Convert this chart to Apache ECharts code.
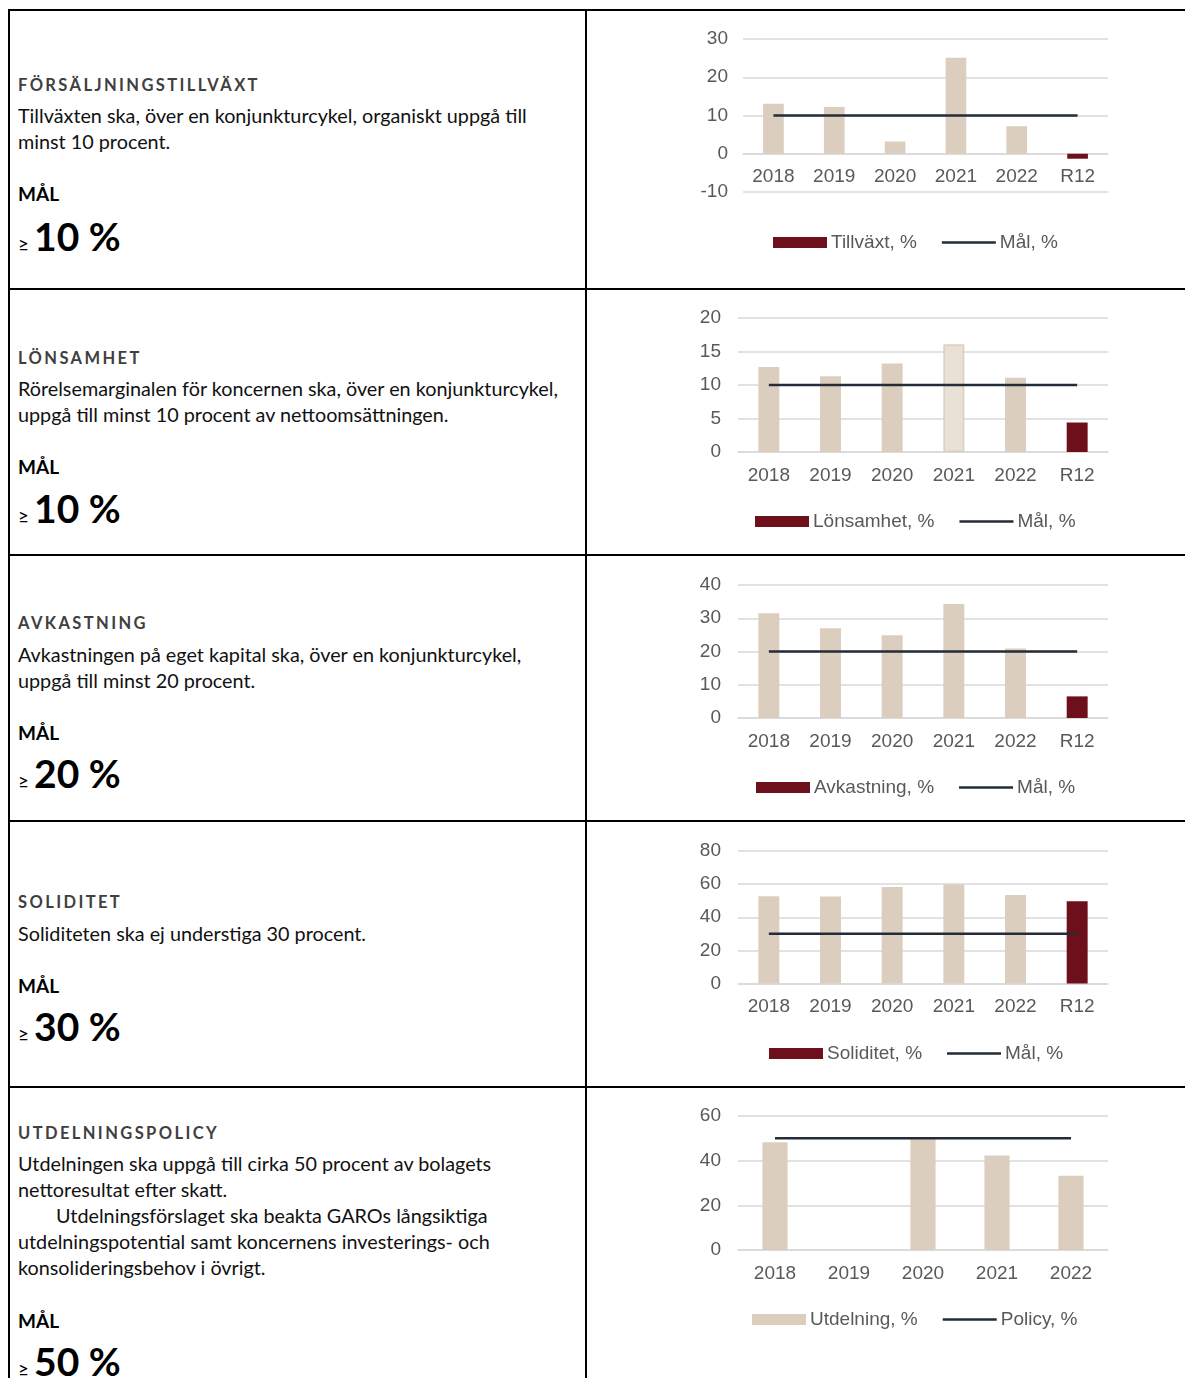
<!DOCTYPE html>
<html>
<head>
<meta charset="utf-8">
<script src="https://cdn.jsdelivr.net/npm/echarts@6/dist/echarts.min.js"></script>
<style>
  html, body { margin:0; padding:0; background:#fff; }
  body { width:1185px; height:1378px; position:relative; overflow:hidden; font-family:'Lato','Open Sans',sans-serif; }
  .ln { position:absolute; background:#000; }
  .t { position:absolute; left:18px; white-space:nowrap; }
  .h { font-weight:700; color:#404040; font-size:16.5px; letter-spacing:2.4px; line-height:24px; }
  .b { color:#111; font-size:19.8px; line-height:26px; }
  .m { font-weight:700; color:#000; font-size:19px; line-height:24px; }
  .g { font-weight:700; color:#000; line-height:44px; }
  .g .s { font-size:19px; font-weight:400; margin-right:5px; }
  .g .n { font-size:39px; }
  .chart { position:absolute; left:590px; width:595px; }
</style>
</head>
<body>
<div class="ln" style="left:8px;top:9px;width:1177px;height:2px"></div>
<div class="ln" style="left:8px;top:288px;width:1177px;height:2px"></div>
<div class="ln" style="left:8px;top:554px;width:1177px;height:2px"></div>
<div class="ln" style="left:8px;top:820px;width:1177px;height:2px"></div>
<div class="ln" style="left:8px;top:1086px;width:1177px;height:2px"></div>
<div class="ln" style="left:8px;top:9px;width:2px;height:1369px"></div>
<div class="ln" style="left:585px;top:9px;width:2px;height:1369px"></div>

<!-- Row 1 -->
<div class="t h" style="top:73px">FÖRSÄLJNINGSTILLVÄXT</div>
<div class="t b" style="top:102px">Tillväxten ska, över en konjunkturcykel, organiskt uppgå till<br>minst 10 procent.</div>
<div class="t m" style="top:182px">MÅL</div>
<div class="t g" style="top:214px"><span class="s">≥</span><span class="n">10 %</span></div>

<!-- Row 2 -->
<div class="t h" style="top:346px">LÖNSAMHET</div>
<div class="t b" style="top:375px">Rörelsemarginalen för koncernen ska, över en konjunkturcykel,<br>uppgå till minst 10 procent av nettoomsättningen.</div>
<div class="t m" style="top:455px">MÅL</div>
<div class="t g" style="top:486px"><span class="s">≥</span><span class="n">10 %</span></div>

<!-- Row 3 -->
<div class="t h" style="top:611px">AVKASTNING</div>
<div class="t b" style="top:641px">Avkastningen på eget kapital ska, över en konjunkturcykel,<br>uppgå till minst 20 procent.</div>
<div class="t m" style="top:721px">MÅL</div>
<div class="t g" style="top:751px"><span class="s">≥</span><span class="n">20 %</span></div>

<!-- Row 4 -->
<div class="t h" style="top:890px">SOLIDITET</div>
<div class="t b" style="top:920px">Soliditeten ska ej understiga 30 procent.</div>
<div class="t m" style="top:974px">MÅL</div>
<div class="t g" style="top:1004px"><span class="s">≥</span><span class="n">30 %</span></div>

<!-- Row 5 -->
<div class="t h" style="top:1121px">UTDELNINGSPOLICY</div>
<div class="t b" style="top:1150px">Utdelningen ska uppgå till cirka 50 procent av bolagets<br>nettoresultat efter skatt.<br><span style="padding-left:38px">Utdelningsförslaget ska beakta GAROs långsiktiga</span><br>utdelningspotential samt koncernens investerings- och<br>konsolideringsbehov i övrigt.</div>
<div class="t m" style="top:1309px">MÅL</div>
<div class="t g" style="top:1339px"><span class="s">≥</span><span class="n">50 %</span></div>

<div id="c1" class="chart" style="top:12px;height:276px"></div>
<div id="c2" class="chart" style="top:291px;height:263px"></div>
<div id="c3" class="chart" style="top:557px;height:263px"></div>
<div id="c4" class="chart" style="top:823px;height:263px"></div>
<div id="c5" class="chart" style="top:1089px;height:289px"></div>

<script>
// ---- Data ----
const categories = ['2018', '2019', '2020', '2021', '2022', 'R12'];
const growthValues = [13.1, 12.2, 3.2, 25.1, 7.2, -1.3];
const growthTarget = [10, 10, 10, 10, 10, 10];
const growthTicks = [-10, 30, 10];

const marginValues = [12.7, 11.3, 13.2, 16.1, 11.1, 4.4];
const marginTarget = [10, 10, 10, 10, 10, 10];
const marginTicks = [0, 20, 5];

const roeValues = [31.5, 27.0, 24.9, 34.3, 20.9, 6.5];
const roeTarget = [20, 20, 20, 20, 20, 20];
const roeTicks = [0, 40, 10];

const equityValues = [52.7, 52.5, 58.3, 59.7, 53.4, 49.6];
const equityTarget = [30, 30, 30, 30, 30, 30];
const equityTicks = [0, 80, 20];

const dividendCategories = ['2018', '2019', '2020', '2021', '2022'];
const dividendValues = [48.2, null, 49.7, 42.3, 33.2];
const dividendPolicy = [50, 50, 50, 50, 50];
const dividendTicks = [0, 60, 20];

// ---- Styles ----
const BEIGE = '#DCCEBF';
const LIGHT = '#E9E0D6';
const RED = '#6D101B';
const NAVY = '#242C37';
const GRID = '#D9D9D9';
const TXT = '#595959';
const FONT = "'Liberation Sans', Arial, sans-serif";
const LINE_ICON = 'path://M0,0 H54 V2.6 H0 Z';

function build(cfg) {
  const ext = cfg.ticks[1] - cfg.ticks[0];
  const zeroOffset = cfg.ticks[0] < 0 ? -cfg.gh * (0 - cfg.ticks[0]) / ext : 0;
  return {
    animation: false,
    textStyle: { fontFamily: FONT },
    grid: { left: cfg.gl, right: cfg.gr, top: cfg.gt, height: cfg.gh, containLabel: false },
    legend: {
      left: cfg.lx, top: cfg.ly, padding: 0,
      itemWidth: 54, itemHeight: 11, itemGap: 25,
      textStyle: { fontSize: 19, color: TXT, fontFamily: FONT, padding: [0, 0, 0, -1] },
      data: [
        { name: cfg.barName, icon: 'rect', itemStyle: { color: cfg.legendBar } },
        { name: cfg.lineName, icon: LINE_ICON, itemStyle: { color: NAVY } }
      ]
    },
    xAxis: {
      type: 'category', data: cfg.cats,
      offset: zeroOffset,
      axisLine: { show: true, onZero: false, lineStyle: { color: GRID, width: 1.5 } },
      axisTick: { show: false },
      axisLabel: { color: TXT, fontSize: 19, margin: 14, fontFamily: FONT }
    },
    yAxis: {
      type: 'value', min: cfg.ticks[0], max: cfg.ticks[1], interval: cfg.ticks[2],
      axisLine: { show: false }, axisTick: { show: false },
      axisLabel: { color: TXT, fontSize: 19, margin: cfg.ym, fontFamily: FONT },
      splitLine: { lineStyle: { color: GRID, width: 1.5 } }
    },
    series: [
      {
        name: cfg.barName, type: 'bar', barWidth: '34%',
        data: cfg.values.map(function (v, i) {
          const c = cfg.cats[i];
          if (cfg.lightCat && c === cfg.lightCat) {
            return { value: v, itemStyle: { color: LIGHT, borderColor: BEIGE, borderWidth: 1.5 } };
          }
          return { value: v, itemStyle: { color: c === 'R12' ? RED : BEIGE } };
        }),
        itemStyle: { color: cfg.legendBar },
        z: 2
      },
      {
        name: cfg.lineName, type: 'line', data: cfg.target, symbol: 'none',
        lineStyle: { color: NAVY, width: 2.5 }, itemStyle: { color: NAVY }, z: 3
      }
    ]
  };
}

function draw(el, cfg) {
  const c = echarts.init(document.getElementById(el));
  c.setOption(build(cfg));
}

draw('c1', { cats: categories, values: growthValues, target: growthTarget, ticks: growthTicks,
  barName: 'Tillväxt, %', lineName: 'Mål, %', legendBar: RED,
  gl: 153, gr: 77, gt: 27, gh: 153, ym: 15, lx: 183, ly: 221 });

draw('c2', { cats: categories, values: marginValues, target: marginTarget, ticks: marginTicks,
  barName: 'Lönsamhet, %', lineName: 'Mål, %', legendBar: RED, lightCat: '2021',
  gl: 148, gr: 77, gt: 27, gh: 134, ym: 17, lx: 165, ly: 221 });

draw('c3', { cats: categories, values: roeValues, target: roeTarget, ticks: roeTicks,
  barName: 'Avkastning, %', lineName: 'Mål, %', legendBar: RED,
  gl: 148, gr: 77, gt: 28, gh: 133, ym: 17, lx: 166, ly: 221 });

draw('c4', { cats: categories, values: equityValues, target: equityTarget, ticks: equityTicks,
  barName: 'Soliditet, %', lineName: 'Mål, %', legendBar: RED,
  gl: 148, gr: 77, gt: 28, gh: 132.5, ym: 17, lx: 179, ly: 221 });

draw('c5', { cats: dividendCategories, values: dividendValues, target: dividendPolicy, ticks: dividendTicks,
  barName: 'Utdelning, %', lineName: 'Policy, %', legendBar: BEIGE,
  gl: 148, gr: 77, gt: 27, gh: 134, ym: 17, lx: 162, ly: 221 });
</script>
</body>
</html>
